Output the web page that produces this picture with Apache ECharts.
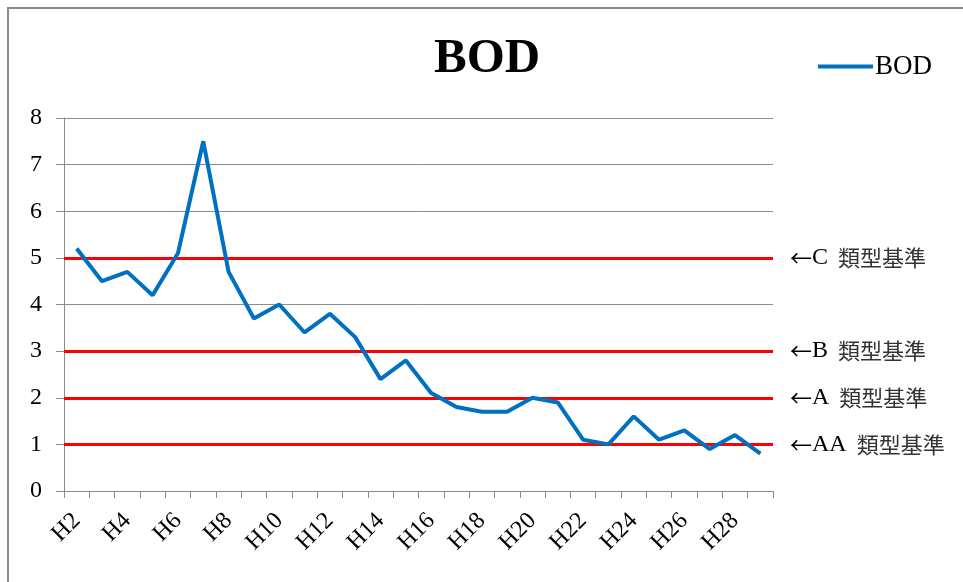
<!DOCTYPE html>
<html>
<head>
<meta charset="utf-8">
<script src="https://cdn.jsdelivr.net/npm/echarts@6/dist/echarts.min.js"></script>
<style>
  html, body { margin: 0; padding: 0; background: #fff; }
  #chart { width: 963px; height: 582px; }
</style>
</head>
<body>
<div id="chart"></div>
<script>
// 年度（平成）
const years = ['H2', 'H3', 'H4', 'H5', 'H6', 'H7', 'H8', 'H9', 'H10', 'H11', 'H12', 'H13', 'H14', 'H15',
  'H16', 'H17', 'H18', 'H19', 'H20', 'H21', 'H22', 'H23', 'H24', 'H25', 'H26', 'H27', 'H28', 'H29'];
// BOD 値
const bod = [5.2, 4.5, 4.7, 4.2, 5.1, 7.5, 4.7, 3.7, 4.0, 3.4, 3.8, 3.3, 2.4, 2.8,
  2.1, 1.8, 1.7, 1.7, 2.0, 1.9, 1.1, 1.0, 1.6, 1.1, 1.3, 0.9, 1.2, 0.8];
// 類型基準
const standardNames = ['C', 'B', 'A', 'AA'];
const standardValues = [5, 3, 2, 1];

const serif = '"Liberation Serif", "DejaVu Serif", "Noto Sans CJK JP", serif';
const cjk = '"Noto Sans CJK JP", "Liberation Serif", sans-serif';
const gridColor = '#8c8c8c';

const chart = echarts.init(document.getElementById('chart'));

const option = {
  backgroundColor: '#ffffff',
  animation: false,
  textStyle: { fontFamily: serif, color: '#000' },
  // 外枠
  graphic: [
    {
      type: 'rect',
      shape: { x: 8, y: 8, width: 1200, height: 1200 },
      style: { fill: 'none', stroke: '#8a8a8a', lineWidth: 2 },
      silent: true,
    },
  ],
  title: {
    text: 'BOD',
    left: 429,
    top: 30,
    textStyle: { fontFamily: serif, fontSize: 49, fontWeight: 'bold', color: '#000' },
  },
  legend: {
    right: 26,
    top: 48,
    itemWidth: 55,
    itemHeight: 4,
    icon: 'rect',
    textStyle: { fontFamily: serif, fontSize: 27, color: '#000', padding: [0, 0, 0, -3] },
    data: ['BOD'],
  },
  grid: {
    left: 64,
    right: 190,
    top: 118,
    bottom: 91,
  },
  xAxis: {
    type: 'category',
    data: years,
    boundaryGap: true,
    axisLine: { lineStyle: { color: gridColor, width: 1 } },
    axisTick: { show: true, length: 7, interval: 0, lineStyle: { color: gridColor } },
    axisLabel: {
      interval: 1,
      rotate: 45,
      fontFamily: serif,
      fontSize: 24,
      color: '#000',
      margin: 26,
    },
  },
  yAxis: {
    type: 'value',
    min: 0,
    max: 8,
    interval: 1,
    axisLine: { show: true, lineStyle: { color: gridColor, width: 1 } },
    axisTick: { show: true, inside: false, length: 8, lineStyle: { color: gridColor } },
    axisLabel: { fontFamily: serif, fontSize: 24, color: '#000', margin: 22 },
    splitLine: { lineStyle: { color: gridColor, width: 1 } },
  },
  series: [
    {
      name: 'BOD',
      type: 'line',
      data: bod,
      symbol: 'none',
      lineStyle: { color: '#0070c0', width: 4 },
      itemStyle: { color: '#0070c0' },
      z: 3,
      markLine: {
        silent: true,
        symbol: ['none', 'none'],
        lineStyle: { color: '#ff0000', width: 3, type: 'solid' },
        label: {
          show: true,
          position: 'end',
          distance: 17,
          color: '#000',
          formatter: (p) => '{a|←}{b|' + p.name + ' }{c|類型基準}',
          rich: {
            a: { fontFamily: cjk, fontSize: 22, color: '#000' },
            b: { fontFamily: serif, fontSize: 24, color: '#000', padding: [0, 4, 0, 0] },
            c: { fontFamily: cjk, fontSize: 22, color: '#333' },
          },
        },
        data: standardValues.map((v, i) => ({ name: standardNames[i], yAxis: v })),
        z: 2,
      },
    },
  ],
};

chart.setOption(option);
</script>
</body>
</html>
